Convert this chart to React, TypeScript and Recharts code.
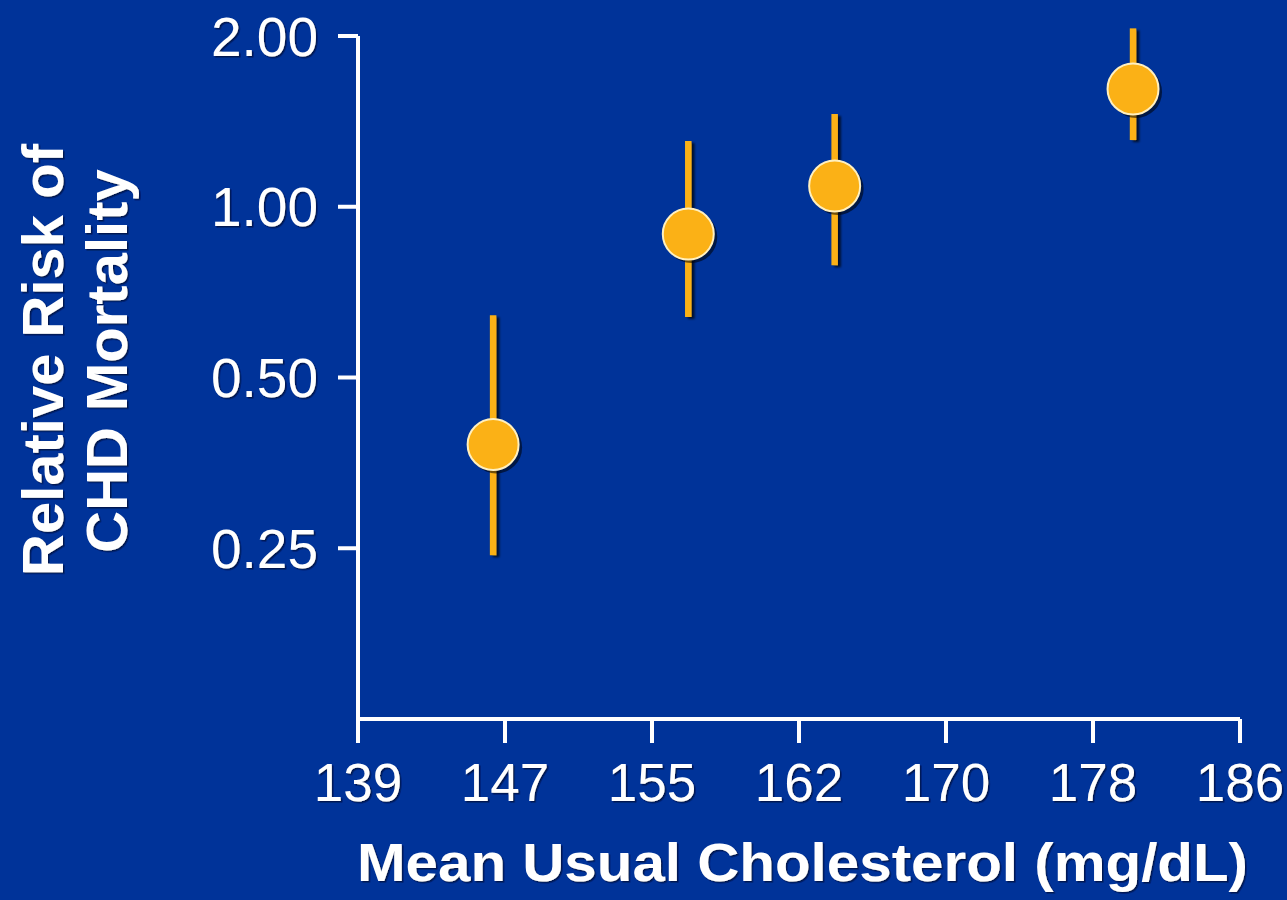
import React from "react"
import {
  ScatterChart,
  Scatter,
  XAxis,
  YAxis,
  ErrorBar,
} from "recharts"

// mean usual cholesterol (mg/dL) per group
const cholesterol = [146.2, 156.6, 164.4, 180.3]
const relativeRisk = [0.381, 0.895, 1.088, 1.613]
const lowerCI = [0.243, 0.639, 0.789, 1.311]
const upperCI = [0.644, 1.306, 1.457, 2.063]

const xTickLabels = ["139", "147", "155", "162", "170", "178", "186"]
const yTicks = [0.25, 0.5, 1, 2]
const yTickLabels = ["0.25", "0.50", "1.00", "2.00"]

const X_MIN = 139
const X_MAX = 186
// the ticks sit at even steps, labels are the rounded values
const xTicks = xTickLabels.map((_, i) => X_MIN + (i * (X_MAX - X_MIN)) / (xTickLabels.length - 1))

const data = cholesterol.map((x, i) => ({
  x,
  y: relativeRisk[i],
  err: [relativeRisk[i] - lowerCI[i], upperCI[i] - relativeRisk[i]],
}))

const BG = "#003399"
const ORANGE = "#FBB116"
const FONT = "'Liberation Sans', Arial, sans-serif"

const Dot = (props: any) => {
  const { cx, cy } = props
  if (cx == null || cy == null) return null
  return (
    <g>
      <circle cx={cx + 3} cy={cy + 3} r={26} fill="#000" opacity={0.55} />
      <circle cx={cx} cy={cy} r={25.5} fill={ORANGE} stroke="#FFF0C0" strokeWidth={2} />
    </g>
  )
}

const YLabel = () => (
  <g fill="#fff" fontFamily={FONT} fontWeight="bold" fontSize={58} filter="url(#txtShadow)">
    <text transform="translate(63, 360) rotate(-90)" textAnchor="middle">
      Relative Risk of
    </text>
    <text transform="translate(127, 361) rotate(-90)" textAnchor="middle">
      CHD Mortality
    </text>
  </g>
)

const XLabel = () => (
  <text
    x={357}
    y={881}
    fill="#fff"
    fontFamily={FONT}
    fontWeight="bold"
    fontSize={53}
    textLength={891}
    lengthAdjust="spacingAndGlyphs"
    filter="url(#txtShadow)"
  >
    Mean Usual Cholesterol (mg/dL)
  </text>
)

const axisStyle = { stroke: "#fff", strokeWidth: 4 }

export default function App() {
  return (
    <div style={{ width: 1287, height: 900, background: BG, position: "relative" }}>
      <style>{`
        body { margin: 0; }
        .recharts-scatter { clip-path: none !important; }
        .recharts-errorBar line { filter: url(#barShadow); stroke-width: 6.5px; }
        .recharts-cartesian-axis-line, .recharts-cartesian-axis-tick-line { stroke-width: 4px; }
        .recharts-cartesian-axis-tick-value { filter: url(#txtShadow); }
      `}</style>
      <svg width={0} height={0} style={{ position: "absolute" }}>
        <defs>
          <filter id="barShadow" filterUnits="userSpaceOnUse" x={0} y={0} width={1287} height={900}>
            <feDropShadow dx={3} dy={2} stdDeviation={0.8} floodColor="#000" floodOpacity={0.7} />
          </filter>
          <filter id="txtShadow" x="-5%" y="-5%" width="110%" height="110%">
            <feDropShadow dx={1.5} dy={1.5} stdDeviation={0.5} floodColor="#001040" floodOpacity={0.8} />
          </filter>
        </defs>
      </svg>
      <ScatterChart width={1287} height={900} margin={{ top: 36, right: 47, bottom: 0, left: 0 }}>
        <XAxis
          type="number"
          dataKey="x"
          domain={[X_MIN, X_MAX]}
          ticks={xTicks}
          interval={0}
          tickFormatter={(_v: number, i: number) => xTickLabels[i]}
          height={181}
          axisLine={axisStyle}
          tickSize={24}
          tickMargin={20}
          tick={{ fill: "#fff", fontSize: 53, fontFamily: FONT }}
          tickLine={axisStyle}
          label={{ content: () => <XLabel /> }}
        />
        <YAxis
          type="number"
          dataKey="y"
          scale="log"
          domain={[0.125, 2]}
          allowDataOverflow
          ticks={yTicks}
          interval={0}
          tickFormatter={(v: number) => yTickLabels[yTicks.indexOf(v)]}
          width={358}
          axisLine={axisStyle}
          tickSize={20}
          tickMargin={20}
          tick={{ fill: "#fff", fontSize: 55, fontFamily: FONT }}
          tickLine={axisStyle}
          label={{ content: () => <YLabel /> }}
        />
        <Scatter data={data} shape={<Dot />} isAnimationActive={false}>
          <ErrorBar
            dataKey="err"
            direction="y"
            width={0}
            stroke={ORANGE}
            strokeWidth={7}
            isAnimationActive={false}
          />
        </Scatter>
      </ScatterChart>
    </div>
  )
}
